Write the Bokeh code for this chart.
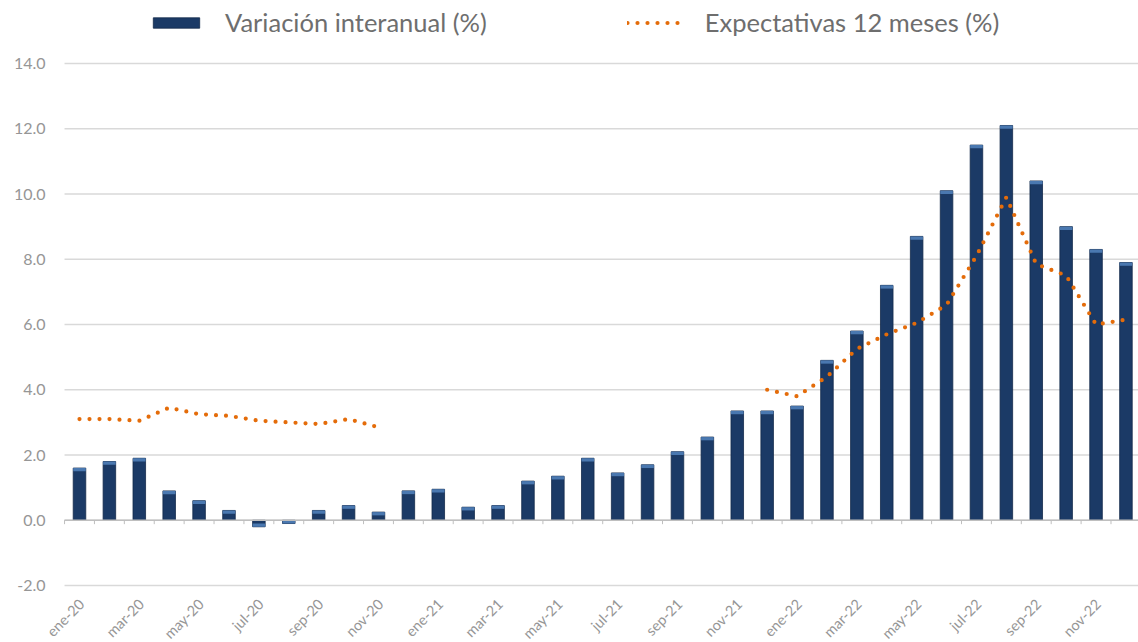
import math
from bokeh.plotting import figure
from bokeh.models import ColumnDataSource, Range1d, Legend, LegendItem
from bokeh.core.properties import value
from bokeh.embed import file_html
from bokeh.resources import INLINE

months = ["ene-20", "feb-20", "mar-20", "abr-20", "may-20", "jun-20",
          "jul-20", "ago-20", "sep-20", "oct-20", "nov-20", "dic-20",
          "ene-21", "feb-21", "mar-21", "abr-21", "may-21", "jun-21",
          "jul-21", "ago-21", "sep-21", "oct-21", "nov-21", "dic-21",
          "ene-22", "feb-22", "mar-22", "abr-22", "may-22", "jun-22",
          "jul-22", "ago-22", "sep-22", "oct-22", "nov-22", "dic-22"]

variacion = [1.6, 1.8, 1.9, 0.9, 0.6, 0.3, -0.2, -0.1, 0.3, 0.45, 0.25, 0.9,
             0.95, 0.4, 0.45, 1.2, 1.35, 1.9, 1.45, 1.7, 2.1, 2.55, 3.35, 3.35,
             3.5, 4.9, 5.8, 7.2, 8.7, 10.1, 11.5, 12.1, 10.4, 9.0, 8.3, 7.9]

expectativas = [3.1, 3.1, 3.05, 3.45, 3.25, 3.2, 3.05, 3.0, 2.95, 3.1, 2.85, None,
                None, None, None, None, None, None, None, None, None, None, None, 4.0,
                3.8, 4.4, 5.25, 5.7, 6.05, 6.6, 8.1, 9.9, 7.85, 7.5, 6.0, 6.15]

y_ticks = [-2, 0, 2, 4, 6, 8, 10, 12, 14]

FONT = "Lato"
GREY = "#969696"
W, H = 1138, 642
X0, X1 = -2.642, 35.42
Y0, Y1 = -3.747, 15.931

idx = list(range(len(months)))
exp_vals = [float("nan") if v is None else v for v in expectativas]
cap_bottom = [v - 0.1 if v > 0 else v + 0.1 for v in variacion]
left_edge = idx[0] - 0.5

src = ColumnDataSource(dict(x=idx, v=variacion, cap=cap_bottom, e=exp_vals))
lab_idx = idx[::2]
lab_src = ColumnDataSource(dict(x=lab_idx, y=[y_ticks[0]] * len(lab_idx),
                                t=[months[i] for i in lab_idx]))
ytick_src = ColumnDataSource(dict(y=y_ticks, x=[left_edge] * len(y_ticks),
                                  x1=[X1] * len(y_ticks),
                                  t=[f"{t:.1f}" for t in y_ticks]))

p = figure(width=W, height=H, min_border=0,
           x_range=Range1d(X0, X1), y_range=Range1d(Y0, Y1),
           output_backend="svg", toolbar_location=None)
p.axis.visible = False
p.grid.visible = False
p.outline_line_color = None
p.background_fill_color = "white"
p.border_fill_color = "white"

# horizontal gridlines and value labels
p.segment(x0="x", x1="x1", y0="y", y1="y", source=ytick_src,
          line_color="#D9D9D9", line_width=1.3)
p.text(x="x", y="y", text="t", source=ytick_src, x_offset=-19,
       text_align="right", text_baseline="middle",
       text_font=value(FONT), text_font_size="16px", text_color=GREY)

bars = p.vbar(x="x", top="v", bottom=0, width=0.42, source=src,
              fill_color="#1B3A66", line_color="#13294A", line_width=0.8)
p.vbar(x="x", top="v", bottom="cap", width=0.42, source=src,
       fill_color="#4A78B0", line_color=None)

# category axis line at zero with small boundary ticks
p.segment(x0=[left_edge], x1=[X1], y0=[0], y1=[0], line_color="#BFBFBF", line_width=1.3)
bx = [i - 0.5 for i in range(len(months) + 1)]
p.segment(x0=bx, x1=bx, y0=[0] * len(bx), y1=[-0.12] * len(bx),
          line_color="#BFBFBF", line_width=1)

ln = p.line(x="x", y="e", source=src, line_color="#E46C0A", line_width=4.2,
            line_dash="0 10", line_cap="round")

# month labels under the -2.0 gridline, rotated 45 degrees
p.text(x="x", y="y", text="t", source=lab_src, angle=math.pi / 4,
       text_align="right", text_baseline="middle", x_offset=2, y_offset=16,
       text_font=value(FONT), text_font_size="14.5px", text_color=GREY)

legend = Legend(items=[LegendItem(label="Variación interanual (%)", renderers=[bars]),
                       LegendItem(label="Expectativas 12 meses (%)", renderers=[ln])],
                orientation="horizontal", location=(147, H - 37),
                label_text_font=FONT, label_text_font_size="25.5px",
                label_text_color="#6E6E6E", glyph_width=58, glyph_height=13,
                label_standoff=20, spacing=140, border_line_color=None,
                background_fill_alpha=0, padding=2, margin=0)
p.add_layout(legend)

open("out.html", "w").write(file_html(p, INLINE))
